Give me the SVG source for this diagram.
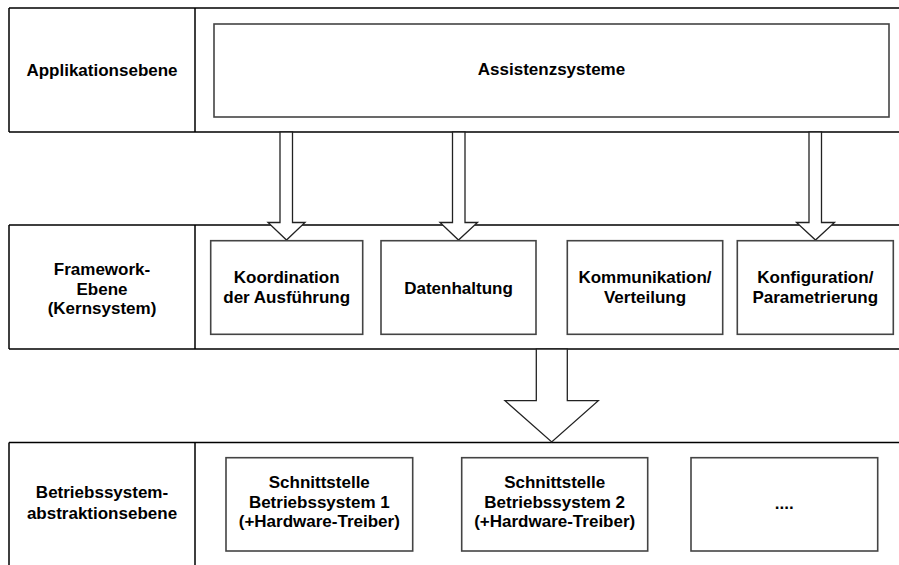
<svg xmlns="http://www.w3.org/2000/svg" width="899" height="565" viewBox="0 0 899 565">
<style>
.frame{stroke:#000;stroke-width:1.5;fill:none}
.box{fill:#fff;stroke:#444;stroke-width:1.6}
.arrow{fill:#fff;stroke:#222;stroke-width:1.3;stroke-linejoin:miter}
text{font-family:"Liberation Sans",Arial,sans-serif;font-weight:bold;font-size:17px;fill:#000;text-anchor:middle}
</style>
<rect width="899" height="565" fill="#fff"/>
<g id="layers">
  <g id="layer-app" class="frame">
    <path d="M9 8H899M9 132H899M9 8V132M195 8V132"/>
  </g>
  <g id="layer-framework" class="frame">
    <path d="M9 225H899M9 349H899M9 225V349M195 225V349"/>
  </g>
  <g id="layer-os" class="frame">
    <path d="M9 442.5H899M9 442.5V565M195 442.5V565"/>
  </g>
</g>
<g id="connectors">
  <polygon class="arrow" points="280,132 280,222.5 268,222.5 286.5,240 305,222.5 292.5,222.5 292.5,132"/>
  <polygon class="arrow" points="452.5,132 452.5,222.5 440,222.5 458.5,240 477.5,222.5 465,222.5 465,132"/>
  <polygon class="arrow" points="809,132 809,222.5 796.5,222.5 815.5,240 834.5,222.5 821.5,222.5 821.5,132"/>
  <polygon class="arrow" points="536.3,349 536.3,400.7 505,400.7 551.7,442 598.3,400.7 567.3,400.7 567.3,349"/>
</g>
<g id="label-app"><text x="102" y="76">Applikationsebene</text></g>
<g id="assistenzsysteme">
  <rect class="box" x="214" y="24" width="675" height="93"/>
  <text x="551.5" y="75">Assistenzsysteme</text>
</g>
<g id="label-framework">
  <text x="102" y="275">Framework-</text>
  <text x="102" y="294.5">Ebene</text>
  <text x="102" y="314">(Kernsystem)</text>
</g>
<g id="koordination">
  <rect class="box" x="210.7" y="240.7" width="152" height="93.6"/>
  <text x="286.7" y="283">Koordination</text>
  <text x="286.7" y="303">der Ausführung</text>
</g>
<g id="datenhaltung">
  <rect class="box" x="381" y="240.7" width="155" height="93.6"/>
  <text x="458.5" y="294">Datenhaltung</text>
</g>
<g id="kommunikation">
  <rect class="box" x="567.3" y="240.7" width="155.4" height="93.6"/>
  <text x="645" y="283">Kommunikation/</text>
  <text x="645" y="303">Verteilung</text>
</g>
<g id="konfiguration">
  <rect class="box" x="737.3" y="240.7" width="156" height="93.6"/>
  <text x="815.3" y="283">Konfiguration/</text>
  <text x="815.3" y="303">Parametrierung</text>
</g>
<g id="label-os">
  <text x="102" y="498">Betriebssystem-</text>
  <text x="102" y="519">abstraktionsebene</text>
</g>
<g id="os1">
  <rect class="box" x="226" y="457.7" width="186.7" height="93.3"/>
  <text x="319.3" y="487.5">Schnittstelle</text>
  <text x="319.3" y="507.5">Betriebssystem 1</text>
  <text x="319.3" y="527">(+Hardware-Treiber)</text>
</g>
<g id="os2">
  <rect class="box" x="461.7" y="457.7" width="186" height="93.3"/>
  <text x="554.7" y="487.5">Schnittstelle</text>
  <text x="554.7" y="507.5">Betriebssystem 2</text>
  <text x="554.7" y="527">(+Hardware-Treiber)</text>
</g>
<g id="os3">
  <rect class="box" x="691" y="457.7" width="186.7" height="93.3"/>
  <text x="784.3" y="509">....</text>
</g>
</svg>
